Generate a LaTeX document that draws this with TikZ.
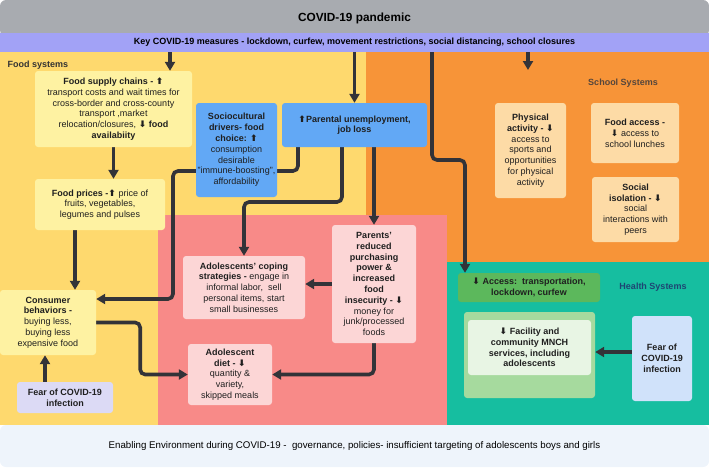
\documentclass[tikz,border=0pt]{standalone}
\usepackage{fontspec}
\setmainfont{Liberation Sans}
\newfontfamily\symfont{DejaVu Sans}
\usetikzlibrary{arrows.meta,calc}
\newcommand{\arrup}{{\symfont ⬆}}
\newcommand{\arrdn}{{\symfont ⬇}}
\definecolor{bannerc}{RGB}{168,171,176}
\definecolor{measc}{RGB}{162,162,246}
\definecolor{foodbg}{RGB}{254,217,110}
\definecolor{foodbox}{RGB}{254,242,162}
\definecolor{schoolbg}{RGB}{247,148,56}
\definecolor{schoolbox}{RGB}{253,219,166}
\definecolor{homebg}{RGB}{248,138,136}
\definecolor{homebox}{RGB}{252,214,214}
\definecolor{bluebox}{RGB}{98,168,245}
\definecolor{healthbg}{RGB}{22,190,160}
\definecolor{accessc}{RGB}{92,184,92}
\definecolor{mnchbg}{RGB}{166,218,158}
\definecolor{mnchc}{RGB}{232,245,228}
\definecolor{fearR}{RGB}{208,226,250}
\definecolor{fearL}{RGB}{220,218,245}
\definecolor{enablec}{RGB}{238,244,251}
\definecolor{linkc}{RGB}{51,51,56}
\pgfdeclarelayer{regions}
\pgfdeclarelayer{links}
\pgfsetlayers{regions,links,main}

\begin{document}
\begin{tikzpicture}[x=1pt,y=-1pt,
  box/.style={fill=#1,rounded corners=3pt,align=center,inner sep=1pt,text=black!88,font=\fontsize{9}{10.8}\selectfont},
  link/.style={line width=3.6pt,draw=linkc,rounded corners=5pt,-{Triangle[length=9pt,width=10pt]}},
  syslabel/.style={font=\fontsize{9}{10}\selectfont\bfseries}]
\useasboundingbox (0,0) rectangle (709,467);
% coloured system areas
\begin{pgfonlayer}{regions}
\fill[foodbg] (0,52) rectangle (366,425);
\fill[schoolbg] (366,52) rectangle (709,262);
\fill[homebg] (158,215) rectangle (447,425);
\fill[healthbg] (447,262) rectangle (709,425);
\end{pgfonlayer}
\node[fill=bannerc,rounded corners=6pt,minimum width=709pt,minimum height=36pt,font=\fontsize{11.8}{13}\selectfont\bfseries] (pandemic) at (354.5,18) {COVID-19 pandemic};
\node[fill=measc,minimum width=709pt,minimum height=19pt,font=\fontsize{9}{10}\selectfont\bfseries] (measures) at (354.5,42.5) {Key COVID-19 measures - lockdown, curfew, movement restrictions, social distancing, school closures};
\node[fill=enablec,rounded corners=6pt,minimum width=709pt,minimum height=42pt,font=\fontsize{9.7}{11}\selectfont] (enabling) at (354.5,446) {Enabling Environment during COVID-19 -~~governance, policies- insufficient targeting of adolescents boys and girls};
\node[syslabel,text=black!80,anchor=west] (foodsys) at (4,65) {Food systems};
\node[syslabel,text={rgb,255:red,85;green,70;blue,60}] (schoolsys) at (623,83) {School Systems};
\node[syslabel,text={rgb,255:red,30;green,70;blue,115}] (healthsys) at (653,287) {Health Systems};
% food systems
\node[box=foodbox,minimum width=157pt,minimum height=76pt] (supply) at (113.5,109) {\textbf{Food supply chains - \arrup}\\transport costs and wait times for\\cross-border and cross-county\\transport ,market\\relocation/closures, \textbf{\arrdn\ food}\\\textbf{availabiity}};
\node[box=foodbox,minimum width=130pt,minimum height=51pt] (prices) at (100,204.5) {\textbf{Food prices -\arrup} price of\\fruits, vegetables,\\legumes and pulses};
\node[box=bluebox,minimum width=81pt,minimum height=94pt] (socio) at (236.5,150) {\textbf{Sociocultural}\\\textbf{drivers- food}\\\textbf{choice: \arrup}\\consumption\\desirable\\"immune-boosting",\\affordability};
\node[box=bluebox,minimum width=145pt,minimum height=44pt] (parental) at (354.5,125) {\textbf{\arrup Parental unemployment,}\\\textbf{job loss}};
\node[box=foodbox,minimum width=96pt,minimum height=65pt] (consumer) at (48,322.5) {\textbf{Consumer}\\\textbf{behaviors -}\\buying less,\\buying less\\expensive food};
\node[box=fearL,minimum width=96pt,minimum height=31pt] (fearfood) at (65,397.5) {\textbf{Fear of COVID-19}\\\textbf{infection}};
% school systems
\node[box=schoolbox,minimum width=71pt,minimum height=95pt] (physical) at (530.5,150.5) {\textbf{Physical}\\\textbf{activity - \arrdn}\\access to\\sports and\\opportunities\\for physical\\activity};
\node[box=schoolbox,minimum width=88pt,minimum height=60pt] (foodaccess) at (635,133) {\textbf{Food access -}\\\arrdn\ access to\\school lunches};
\node[box=schoolbox,minimum width=87pt,minimum height=65pt] (isolation) at (635.5,209.5) {\textbf{Social}\\\textbf{isolation - \arrdn}\\social\\interactions with\\peers};
% household
\node[box=homebox,minimum width=84pt,minimum height=118pt] (purchasing) at (374,284) {\textbf{Parents'}\\\textbf{reduced}\\\textbf{purchasing}\\\textbf{power \&}\\\textbf{increased}\\\textbf{food}\\\textbf{insecurity - \arrdn}\\money for\\junk/processed\\foods};
\node[box=homebox,minimum width=122pt,minimum height=63pt] (coping) at (244,287.5) {\textbf{Adolescents' coping}\\\textbf{strategies -} engage in\\informal labor,~~sell\\personal items, start\\small businesses};
\node[box=homebox,minimum width=84pt,minimum height=61pt] (diet) at (230,374.5) {\textbf{Adolescent}\\\textbf{diet - \arrdn}\\quantity \&\\variety,\\skipped meals};
% health systems
\node[box=accessc,minimum width=142pt,minimum height=29pt] (access) at (529,287.5) {\textbf{\arrdn\ Access:~~transportation,}\\\textbf{lockdown, curfew}};
\node[box=mnchbg,minimum width=131pt,minimum height=86pt] (mncharea) at (529.5,355) {};
\node[box=mnchc,minimum width=123pt,minimum height=55pt] (mnch) at (529.5,347.5) {\textbf{\arrdn\ Facility and}\\\textbf{community MNCH}\\\textbf{services, including}\\\textbf{adolescents}};
\node[box=fearR,minimum width=60pt,minimum height=85pt] (fearhealth) at (662,358.5) {\textbf{Fear of}\\\textbf{COVID-19}\\\textbf{infection}};
\coordinate (schooltop) at (528,70);
% connectors
\begin{pgfonlayer}{links}
\draw[link] (measures.south -| 170,0) -- (supply.north -| 170,0);
\draw[link] (measures.south -| parental.north) -- (parental.north);
\draw[link] (measures.south -| 432,0) -- (432,160) -- (465,160) -- (access.north -| 465,0);
\draw[link] (measures.south -| schooltop) -- (schooltop);
\draw[link] (supply.south) -- (supply.south |- prices.north);
\draw[link] (prices.south -| 75,0) -- (consumer.north -| 75,0);
\draw[link] (fearfood.north -| 45,0) -- (consumer.south -| 45,0);
\draw[link] (consumer.east) -- ++(44,0) |- (diet.west);
\draw[link] (parental.south -| 298,0) |- (173,171) |- (consumer.east |- 0,299);
\draw[link] (parental.south -| 342,0) |- (coping.north |- 0,202) -- (coping.north);
\draw[link] (parental.south -| purchasing.north) -- (purchasing.north);
\draw[link] (purchasing.west) -- (purchasing.west -| coping.east);
\draw[link] (purchasing.south) |- (diet.east);
\draw[link] (fearhealth.west |- 0,352) -- (mncharea.east |- 0,352);
\end{pgfonlayer}
\end{tikzpicture}
\end{document}
